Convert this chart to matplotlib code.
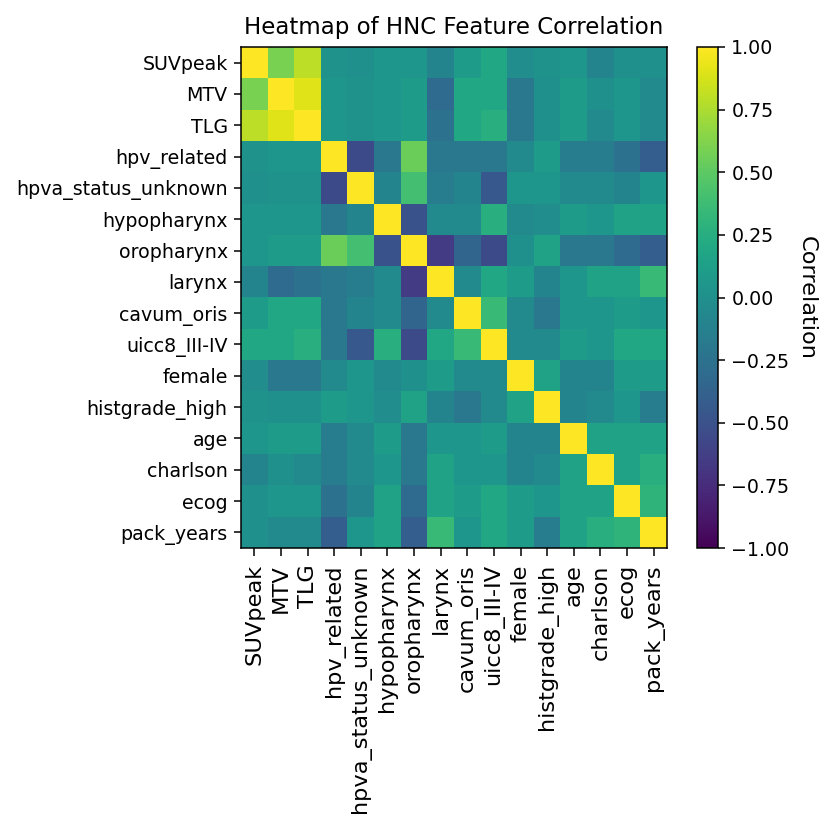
import matplotlib
matplotlib.use("Agg")
import matplotlib.pyplot as plt
import numpy as np

features = ["SUVpeak", "MTV", "TLG", "hpv_related", "hpva_status_unknown",
            "hypopharynx", "oropharynx", "larynx", "cavum_oris", "uicc8_III-IV",
            "female", "histgrade_high", "age", "charlson", "ecog", "pack_years"]

corr_rows = [
    [1.00, 0.60, 0.80, 0.02, 0.00, 0.05, 0.05, -0.10, 0.10, 0.20, -0.02, 0.02, 0.05, -0.10, 0.00, 0.00],
    [0.60, 1.00, 0.90, 0.05, 0.02, 0.05, 0.10, -0.30, 0.20, 0.20, -0.20, 0.00, 0.10, 0.00, 0.05, -0.05],
    [0.80, 0.90, 1.00, 0.05, 0.02, 0.05, 0.10, -0.25, 0.20, 0.25, -0.20, 0.00, 0.10, -0.05, 0.05, -0.05],
    [0.02, 0.05, 0.05, 1.00, -0.55, -0.20, 0.55, -0.20, -0.20, -0.20, -0.05, 0.10, -0.15, -0.15, -0.25, -0.40],
    [0.00, 0.02, 0.02, -0.55, 1.00, -0.10, 0.40, -0.15, -0.10, -0.45, 0.05, 0.05, -0.05, -0.05, -0.10, 0.05],
    [0.05, 0.05, 0.05, -0.20, -0.10, 1.00, -0.50, -0.05, -0.05, 0.25, -0.05, -0.02, 0.10, 0.05, 0.15, 0.15],
    [0.05, 0.10, 0.10, 0.55, 0.40, -0.50, 1.00, -0.65, -0.35, -0.55, 0.00, 0.15, -0.20, -0.20, -0.30, -0.40],
    [-0.10, -0.30, -0.25, -0.20, -0.15, -0.05, -0.65, 1.00, -0.05, 0.20, 0.10, -0.10, 0.05, 0.15, 0.15, 0.35],
    [0.10, 0.20, 0.20, -0.20, -0.10, -0.05, -0.35, -0.05, 1.00, 0.35, -0.05, -0.20, 0.05, 0.05, 0.10, 0.05],
    [0.20, 0.20, 0.25, -0.20, -0.45, 0.25, -0.55, 0.20, 0.35, 1.00, -0.05, -0.05, 0.10, 0.05, 0.20, 0.20],
    [-0.02, -0.20, -0.20, -0.05, 0.05, -0.05, 0.00, 0.10, -0.05, -0.05, 1.00, 0.15, -0.10, -0.10, 0.10, 0.10],
    [0.02, 0.00, 0.00, 0.10, 0.05, -0.02, 0.15, -0.10, -0.20, -0.05, 0.15, 1.00, -0.10, -0.05, 0.05, -0.15],
    [0.05, 0.10, 0.10, -0.15, -0.05, 0.10, -0.20, 0.05, 0.05, 0.10, -0.10, -0.10, 1.00, 0.15, 0.15, 0.15],
    [-0.10, 0.00, -0.05, -0.15, -0.05, 0.05, -0.20, 0.15, 0.05, 0.05, -0.10, -0.05, 0.15, 1.00, 0.15, 0.25],
    [0.00, 0.05, 0.05, -0.25, -0.10, 0.15, -0.30, 0.15, 0.10, 0.20, 0.10, 0.05, 0.15, 0.15, 1.00, 0.30],
    [0.00, -0.05, -0.05, -0.40, 0.05, 0.15, -0.40, 0.35, 0.05, 0.20, 0.10, -0.15, 0.15, 0.25, 0.30, 1.00],
]

corr = np.array(corr_rows)

DPI = 137
W, H = 824, 818
VS = 1.18  # vertical stretch of the reference relative to its horizontal scale
fig = plt.figure(figsize=(W / DPI, H / DPI), dpi=DPI)
ax = fig.add_axes([241/W, 1 - 548/H, 426/W, 501/H])
im = ax.imshow(corr, cmap="viridis", vmin=-1, vmax=1, aspect="auto")
ax.set_xticks(range(len(features)))
ax.set_yticks(range(len(features)))
ax.set_xticklabels(features, rotation=90, fontsize=10 * VS)
ax.set_yticklabels(features, fontsize=10)
ax.tick_params(axis="x", length=3.5 * VS, pad=4.4)
ax.set_title("Heatmap of HNC Feature Correlation", fontsize=12, pad=6 * VS)

cax = fig.add_axes([697/W, 1 - 548/H, 21/W, 501/H])
cb = fig.colorbar(im, cax=cax)
cb.set_ticks(np.arange(-1, 1.01, 0.25))
cb.ax.tick_params(labelsize=10)
cb.set_label("Correlation", rotation=270, labelpad=14.5, fontsize=10 * VS)

fig.savefig("out.png", dpi=DPI)
